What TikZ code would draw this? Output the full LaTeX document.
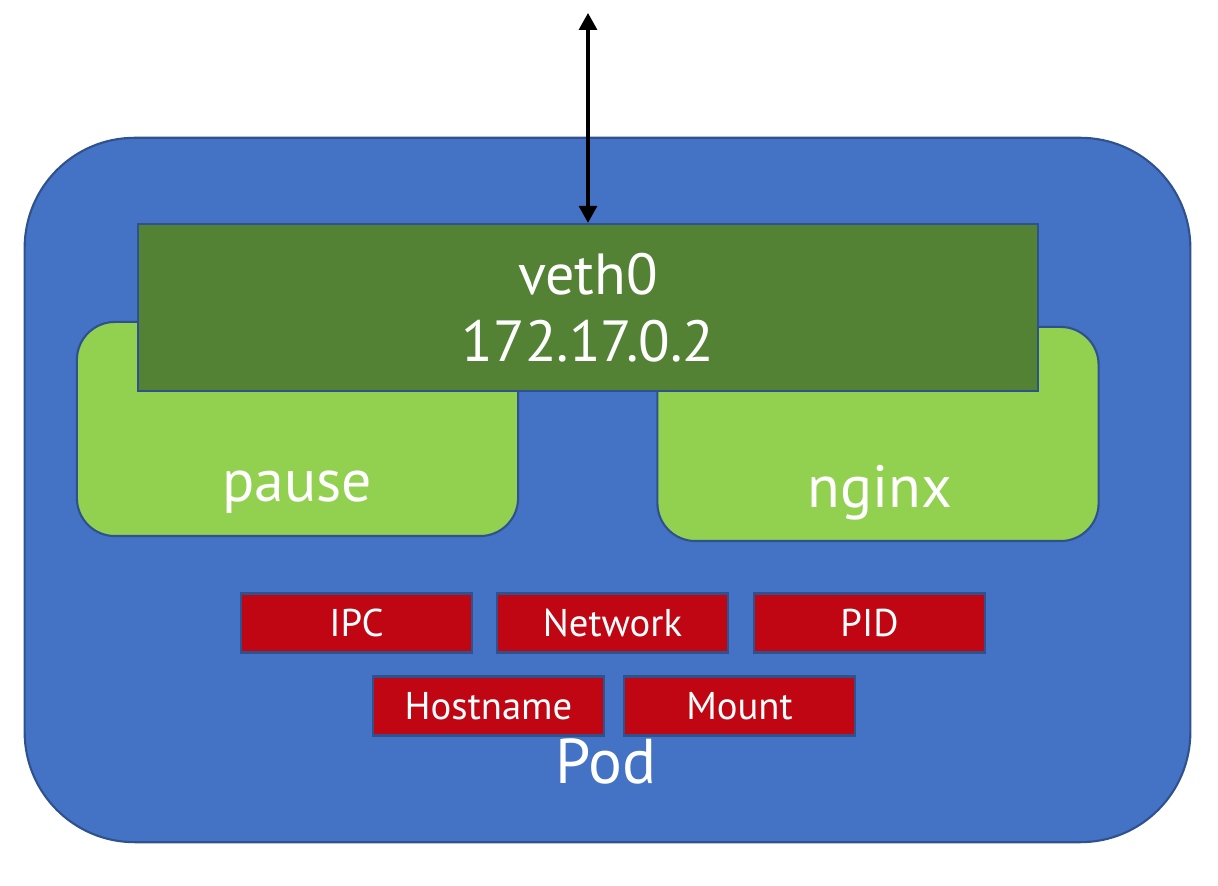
\documentclass[tikz,border=0pt]{standalone}
\usepackage{fontspec}
\setmainfont{PT Sans}
\usetikzlibrary{arrows.meta}
\definecolor{pod_blue}{HTML}{4472C4}
\definecolor{edge_blue}{HTML}{2F528F}
\definecolor{veth_green}{HTML}{548235}
\definecolor{box_green}{HTML}{92D050}
\definecolor{ns_red}{HTML}{C00612}
\tikzset{
  box/.style={draw=edge_blue, line width=0.6pt, text=white, inner sep=0pt},
  container/.style={box, fill=box_green, rounded corners=0.38cm, minimum width=4.41cm, minimum height=2.14cm},
  ns box/.style={box, fill=ns_red, minimum width=2.31cm, minimum height=0.59cm, font=\fontsize{11}{13}\selectfont},
  big label/.style={text=white, font=\fontsize{17}{20}\selectfont, anchor=base}
}

\begin{document}
\begin{tikzpicture}[x=0.01cm, y=-0.01cm]
\useasboundingbox (0,0) rectangle (1218,886);

% Draw the blue pod
\node[box, fill=pod_blue, rounded corners=1.1cm, minimum width=11.65cm, minimum height=7.04cm] (pod) at (607.5,490) {};

% Draw the two containers behind veth0
\node[container] (pause) at (297.5,429) {};
\node[container] (nginx) at (878,434) {};

% Draw veth0 on top of them
\node[box, fill=veth_green, minimum width=9cm, minimum height=1.67cm, align=center, font=\fontsize{16.5}{19}\selectfont] (veth) at (588,307.5) {veth0\\172.17.0.2};

% Container and pod labels
\node[big label] (pause label) at (297,502) {pause};
\node[big label] (nginx label) at (880,508) {nginx};
\node[big label, font=\fontsize{18}{21}\selectfont] (pod label) at (606,784) {Pod};

% Draw the shared namespaces
\node[ns box] (ipc) at (356.5,623) {IPC};
\node[ns box] (network) at (612.5,623) {Network};
\node[ns box] (pid) at (869.5,623) {PID};
\node[ns box] (hostname) at (488.5,706) {Hostname};
\node[ns box] (mount) at (739.5,706) {Mount};

% Draw the double arrow into veth0
\coordinate (outside) at (588,13);
\draw[{Triangle[width=0.18cm,length=0.17cm]}-{Triangle[width=0.18cm,length=0.17cm]}, line width=0.9pt] (outside) -- (veth.north);

\end{tikzpicture}
\end{document}
